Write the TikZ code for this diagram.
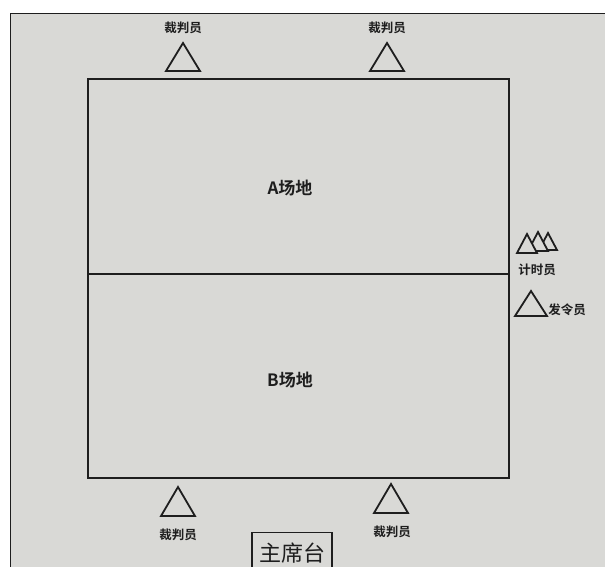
\documentclass[tikz,border=0pt]{standalone}
\usepackage{fontspec}
\newfontfamily\cjk{Noto Sans CJK SC}
\newfontfamily\cjkb{Noto Sans CJK SC Bold}
\definecolor{paper}{HTML}{D9D9D6}
\definecolor{ink}{HTML}{1E1E1E}
\begin{document}
\begin{tikzpicture}[x=1pt,y=-1pt,
  lab/.style={font=\cjkb\fontsize{12.5}{12.5}\selectfont,text=ink,inner sep=0pt},
  tri/.style={draw=ink,line width=1.8pt,line join=miter},
  area/.style={font=\cjkb\fontsize{17}{17}\selectfont,text=ink,inner sep=0pt}]
\useasboundingbox (0,0) rectangle (605,567);
\fill[white] (0,0) rectangle (605,567);
\fill[paper] (10,14) rectangle (605,567);
\draw[ink,line width=1pt] (10,567) -- (10,14) -- (605,14);
% field
\draw[ink,line width=2.2pt] (88,79) rectangle (509,478);
\draw[ink,line width=1.6pt] (88,274) -- (509,274);
\node[area] (A) at (290,188) {A场地};
\node[area] (B) at (290,380) {B场地};
% top referees
\draw[tri] (166,71) -- (183,43) -- (200,71) -- cycle;
\node[lab] (r1) at (183,28) {裁判员};
\draw[tri] (370,71) -- (387,43) -- (404,71) -- cycle;
\node[lab] (r2) at (387,28) {裁判员};
% bottom referees
\draw[tri] (161,516) -- (178,487) -- (195,516) -- cycle;
\node[lab] (r3) at (178,535) {裁判员};
\draw[tri] (374,513) -- (391,484) -- (408,513) -- cycle;
\node[lab] (r4) at (392,532) {裁判员};
% timers
\draw[tri,fill=paper] (539,250) -- (548,233) -- (557,250) -- cycle;
\draw[tri,fill=paper] (528,251) -- (538,232) -- (548,251) -- cycle;
\draw[tri,fill=paper] (517,253) -- (527,234) -- (537,253) -- cycle;
\node[lab] (t) at (537,270) {计时员};
% starter
\draw[tri] (515,316) -- (531,291) -- (547,316) -- cycle;
\node[lab] (s) at (567,310) {发令员};
% presidium
\node[draw=ink,line width=1.3pt,font=\cjk\fontsize{22}{22}\selectfont,text=ink,
  minimum width=80pt,minimum height=40pt,anchor=north,inner sep=2pt] (P) at (292,532) {主席台};
\end{tikzpicture}
\end{document}
